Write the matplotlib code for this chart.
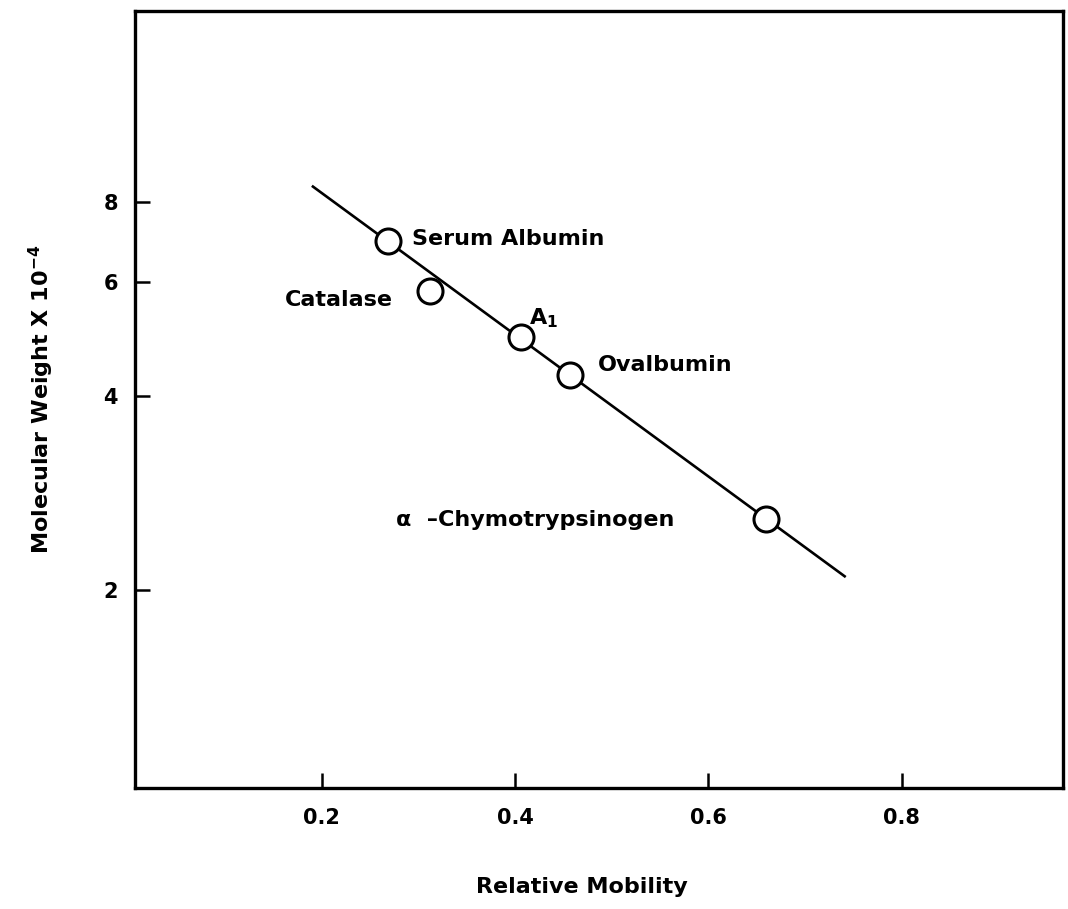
import matplotlib.pyplot as plt
from matplotlib.ticker import FixedLocator, FixedFormatter, NullLocator

# calibration proteins: relative mobility vs molecular weight (x 10^-4)
proteins = ["Serum Albumin", "Catalase", "A$_1$", "Ovalbumin", "α  –Chymotrypsinogen"]
mobility = [0.269, 0.312, 0.406, 0.457, 0.660]
mol_weight = [6.94, 5.81, 4.94, 4.31, 2.58]

# standard curve drawn through the points
fit_x = [0.191, 0.741]
fit_y = [8.44, 2.10]

x_ticks = [0.2, 0.4, 0.6, 0.8]
y_ticks = [2, 4, 6, 8]

plt.rcParams['font.family'] = ['DejaVu Sans']
plt.rcParams['font.weight'] = 'bold'

fig = plt.figure(figsize=(10.68, 9.09), dpi=100)
ax = fig.add_axes([0.126, 0.133, 0.869, 0.855])

ax.plot(fit_x, fit_y, color='black', lw=1.9, zorder=2)
ax.plot(mobility, mol_weight, 'o', ms=18, mfc='white', mec='black', mew=2.2, zorder=3)

# label placement offsets in points, per protein
offsets = [(17, 2), (-27, -6), (6, 13), (20, 7), (-267, -1)]
aligns = ['left', 'right', 'left', 'left', 'left']
for name, x, y, off, ha in zip(proteins, mobility, mol_weight, offsets, aligns):
    ax.annotate(name, (x, y), xytext=off, textcoords='offset points',
                ha=ha, va='center', fontsize=16, fontweight='bold')

ax.set_yscale('log')
ax.set_xlim(0.0065, 0.9665)
ax.set_ylim(0.986, 15.8)

ax.xaxis.set_major_locator(FixedLocator(x_ticks))
ax.xaxis.set_major_formatter(FixedFormatter([f"{v:.1f}" for v in x_ticks]))
ax.yaxis.set_major_locator(FixedLocator(y_ticks))
ax.yaxis.set_major_formatter(FixedFormatter([str(v) for v in y_ticks]))
ax.yaxis.set_minor_locator(NullLocator())

ax.tick_params(direction='in', length=11, width=1.8, labelsize=15, pad=14)
ax.tick_params(axis='y', pad=12)
for spine in ax.spines.values():
    spine.set_linewidth(2.4)

ax.set_xlabel("Relative Mobility", fontsize=16, fontweight='bold')
ax.xaxis.set_label_coords(0.482, -0.114)
ax.set_ylabel(r"Molecular Weight X 10$^{\mathbf{-4}}$", fontsize=16, fontweight='bold', labelpad=34)

fig.savefig("out.png", dpi=100)
